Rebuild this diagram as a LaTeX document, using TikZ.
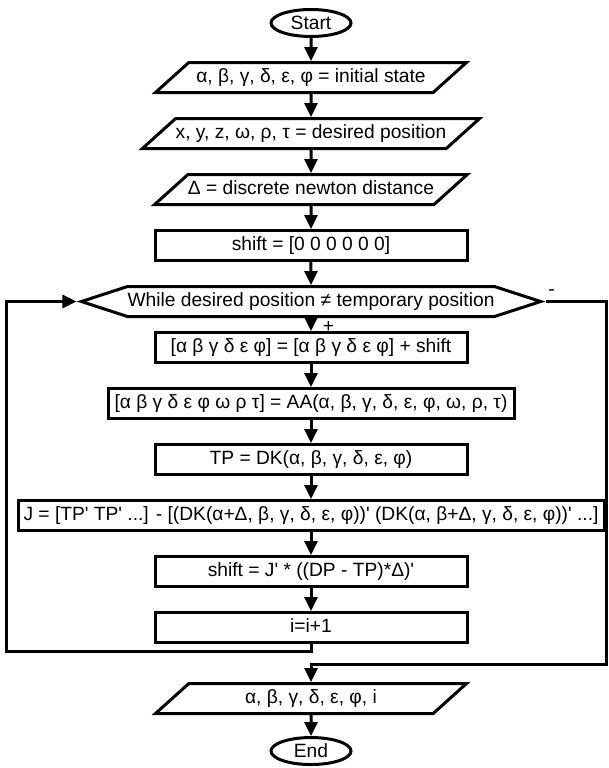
\documentclass[tikz,border=0pt]{standalone}
\usepackage{fontspec}
\setmainfont{Liberation Sans}[Ligatures=TeXOff]
\usetikzlibrary{arrows.meta, positioning, shapes.geometric, shapes.symbols}

\begin{document}
\begin{tikzpicture}[node distance=23pt, font=\fontsize{19.2}{23}\selectfont,
    term/.style={draw, ellipse, line width=3pt, minimum width=80pt, minimum height=27pt, inner sep=0pt},
    io/.style={draw, trapezium, trapezium left angle=42, trapezium right angle=138, trapezium stretches body, line width=3pt, minimum width=311pt, text height=14pt, text depth=5pt, inner xsep=0pt, inner ysep=5.5pt},
    proc/.style={draw, rectangle, line width=3pt, minimum width=312pt, text height=14pt, text depth=5pt, inner xsep=1pt, inner ysep=5.5pt},
    decide/.style={draw, signal, signal to=west and east, signal pointer angle=36, line width=3pt, minimum width=440pt, text height=14pt, text depth=5pt, inner xsep=0pt, inner ysep=5.5pt},
    flow/.style={line width=3pt, -{Triangle[length=14pt, width=13pt]}}]
  \useasboundingbox (0,0) rectangle (608pt,-768pt);

  \node[term] (start) at (311pt,-23pt) {Start};
  \node[io, below=of start] (init) {α, β, γ, δ, ε, φ = initial state};
  \node[io, below=of init] (goal) {x, y, z, ω, ρ, τ = desired position};
  \node[io, below=of goal] (delta) {Δ = discrete newton distance};
  \node[proc, below=of delta] (zero) {shift = [0 0 0 0 0 0]};
  \node[decide, below=of zero] (cond) {While desired position ≠ temporary position};
  \node[proc, below=13pt of cond] (update) {[α β γ δ ε φ] = [α β γ δ ε φ] + shift};
  \node[proc, below=of update, minimum width=406pt] (solve) {[α β γ δ ε φ ω ρ τ] = AA(α, β, γ, δ, ε, φ, ω, ρ, τ)};
  \node[proc, below=of solve] (fwd) {TP = DK(α, β, γ, δ, ε, φ)};
  \node[proc, below=of fwd, minimum width=586pt] (jac) {J = [TP' TP' ...] - [(DK(α+Δ, β, γ, δ, ε, φ))' (DK(α, β+Δ, γ, δ, ε, φ))' ...]};
  \node[proc, below=of jac] (corr) {shift = J' * ((DP - TP)*Δ)'};
  \node[proc, below=of corr] (inc) {i=i+1};
  \node[io, below=38pt of inc] (result) {α, β, γ, δ, ε, φ, i};
  \node[term, below=21pt of result] (stop) {End};

  \coordinate (back) at (6pt,-651pt);
  \coordinate (exit) at (606.5pt,-664pt);

  \draw[flow] (start) -- (init);
  \draw[flow] (init) -- (goal);
  \draw[flow] (goal) -- (delta);
  \draw[flow] (delta) -- (zero);
  \draw[flow] (zero) -- (cond);
  \draw[flow] (cond) -- node (plus) [right=7pt, yshift=-2pt] {+} (update);
  \draw[flow] (update) -- (solve);
  \draw[flow] (solve) -- (fwd);
  \draw[flow] (fwd) -- (jac);
  \draw[flow] (jac) -- (corr);
  \draw[flow] (corr) -- (inc);
  \draw[flow] (inc) |- (back) |- (cond);
  \draw[flow] (cond) -| node (minus) [pos=0.05, above=1pt] {-} (exit) -| (result);
  \draw[flow] (result) -- (stop);
\end{tikzpicture}
\end{document}
